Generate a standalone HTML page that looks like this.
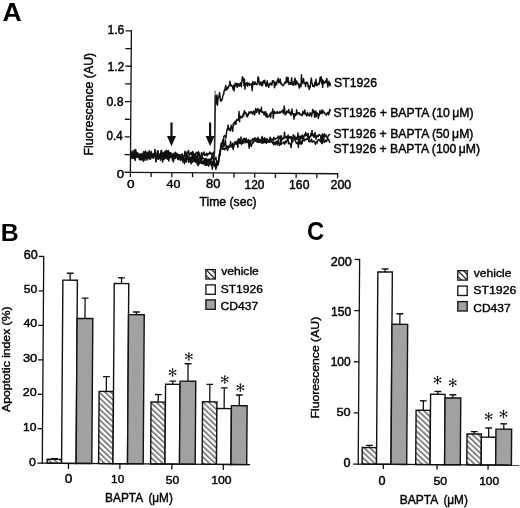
<!DOCTYPE html>
<html><head><meta charset="utf-8"><style>
html,body{margin:0;padding:0;background:#fff;overflow:hidden;}
svg{display:block;font-family:"Liberation Sans", sans-serif;filter:grayscale(1) blur(0.3px);}
text{fill:#000;stroke:#000;}
</style></head><body>
<svg width="520" height="508" viewBox="0 0 520 508">
<defs>
<pattern id="hatch" patternUnits="userSpaceOnUse" width="4.0" height="4.0" patternTransform="rotate(-47)">
<rect width="4.0" height="4.0" fill="#fff"/>
<line x1="0.8" y1="0" x2="0.8" y2="4.0" stroke="#222" stroke-width="1.05"/>
</pattern>
</defs>
<text transform="translate(2.54,20.70) scale(1.0627,1.0261)" font-size="25" font-weight="bold" style="stroke:none">A</text>
<g transform="rotate(0.4 130.4 172.3)">
<line x1="130.40" y1="30.30" x2="130.40" y2="172.90" stroke="#111" stroke-width="1.3"/>
<line x1="129.80" y1="172.30" x2="338.20" y2="172.30" stroke="#111" stroke-width="1.3"/>
<line x1="124.50" y1="172.30" x2="130.40" y2="172.30" stroke="#111" stroke-width="1.3"/>
<line x1="124.50" y1="154.62" x2="130.40" y2="154.62" stroke="#111" stroke-width="1.3"/>
<line x1="124.50" y1="136.95" x2="130.40" y2="136.95" stroke="#111" stroke-width="1.3"/>
<line x1="124.50" y1="119.28" x2="130.40" y2="119.28" stroke="#111" stroke-width="1.3"/>
<line x1="124.50" y1="101.60" x2="130.40" y2="101.60" stroke="#111" stroke-width="1.3"/>
<line x1="124.50" y1="83.93" x2="130.40" y2="83.93" stroke="#111" stroke-width="1.3"/>
<line x1="124.50" y1="66.25" x2="130.40" y2="66.25" stroke="#111" stroke-width="1.3"/>
<line x1="124.50" y1="48.58" x2="130.40" y2="48.58" stroke="#111" stroke-width="1.3"/>
<line x1="124.50" y1="30.90" x2="130.40" y2="30.90" stroke="#111" stroke-width="1.3"/>
<line x1="130.40" y1="172.30" x2="130.40" y2="176.90" stroke="#111" stroke-width="1.3"/>
<line x1="151.12" y1="172.30" x2="151.12" y2="176.90" stroke="#111" stroke-width="1.3"/>
<line x1="171.84" y1="172.30" x2="171.84" y2="176.90" stroke="#111" stroke-width="1.3"/>
<line x1="192.56" y1="172.30" x2="192.56" y2="176.90" stroke="#111" stroke-width="1.3"/>
<line x1="213.28" y1="172.30" x2="213.28" y2="176.90" stroke="#111" stroke-width="1.3"/>
<line x1="234.00" y1="172.30" x2="234.00" y2="176.90" stroke="#111" stroke-width="1.3"/>
<line x1="254.72" y1="172.30" x2="254.72" y2="176.90" stroke="#111" stroke-width="1.3"/>
<line x1="275.44" y1="172.30" x2="275.44" y2="176.90" stroke="#111" stroke-width="1.3"/>
<line x1="296.16" y1="172.30" x2="296.16" y2="176.90" stroke="#111" stroke-width="1.3"/>
<line x1="316.88" y1="172.30" x2="316.88" y2="176.90" stroke="#111" stroke-width="1.3"/>
<line x1="337.60" y1="172.30" x2="337.60" y2="176.90" stroke="#111" stroke-width="1.3"/>
<polyline points="130.40,153.22 130.92,155.21 131.44,155.44 131.95,151.02 132.47,153.38 132.99,158.39 133.51,152.53 134.03,153.48 134.54,158.58 135.06,155.54 135.58,154.48 136.10,155.04 136.62,155.47 137.13,153.96 137.65,152.84 138.17,156.45 138.69,155.15 139.21,154.90 139.72,156.43 140.24,155.14 140.76,159.62 141.28,153.72 141.80,155.52 142.31,155.47 142.83,154.99 143.35,156.02 143.87,154.30 144.39,156.70 144.90,157.21 145.42,152.78 145.94,154.70 146.46,154.00 146.98,152.17 147.49,157.43 148.01,154.82 148.53,153.46 149.05,156.27 149.57,154.31 150.08,158.37 150.60,154.64 151.12,151.33 151.64,153.87 152.16,154.65 152.67,155.02 153.19,157.43 153.71,155.69 154.23,154.08 154.75,149.26 155.26,152.47 155.78,161.14 156.30,154.19 156.82,155.35 157.34,150.79 157.85,150.45 158.37,157.16 158.89,155.30 159.41,154.65 159.93,154.89 160.44,152.66 160.96,153.21 161.48,150.19 162.00,156.52 162.52,154.89 163.03,152.82 163.55,155.94 164.07,153.45 164.59,151.33 165.11,155.00 165.62,156.90 166.14,149.90 166.66,156.24 167.18,153.56 167.70,152.54 168.21,150.24 168.73,154.52 169.25,156.35 169.77,155.09 170.29,156.67 170.80,153.80 171.32,154.88 171.84,155.35 172.36,160.02 172.88,159.19 173.39,154.74 173.91,154.24 174.43,153.21 174.95,155.76 175.47,151.91 175.98,153.46 176.50,155.53 177.02,154.23 177.54,155.73 178.06,155.51 178.57,154.40 179.09,155.14 179.61,156.72 180.13,156.07 180.65,157.08 181.16,154.20 181.68,155.79 182.20,153.54 182.72,155.96 183.24,155.98 183.75,156.24 184.27,155.59 184.79,150.92 185.31,153.81 185.83,153.34 186.34,160.54 186.86,151.62 187.38,152.37 187.90,152.50 188.42,149.98 188.93,155.59 189.45,154.03 189.97,152.84 190.49,153.78 191.01,151.91 191.52,154.51 192.04,153.68 192.56,151.14 193.08,152.14 193.60,154.73 194.11,154.74 194.63,153.56 195.15,154.77 195.67,154.01 196.19,151.79 196.70,152.12 197.22,152.68 197.74,155.09 198.26,151.30 198.78,151.73 199.29,154.74 199.81,157.65 200.33,156.84 200.85,155.61 201.37,152.13 201.88,155.56 202.40,154.85 202.92,152.65 203.44,153.61 203.96,151.56 204.47,154.91 204.99,154.40 205.51,153.82 206.03,154.41 206.55,152.66 207.06,155.30 207.58,153.84 208.10,153.02 208.62,153.62 209.14,153.10 209.65,151.49 210.17,152.56 210.69,153.33 211.21,152.49 211.73,154.14 212.24,153.36 212.76,153.58 213.28,151.64 213.80,153.63 214.32,152.20 214.83,95.24 215.35,103.37 215.87,99.31 216.39,94.33 216.91,104.77 217.42,99.23 217.94,96.74 218.46,95.65 218.98,91.88 219.50,95.58 220.01,100.27 220.53,100.57 221.05,98.84 221.57,99.24 222.09,96.32 222.60,94.16 223.12,93.76 223.64,89.65 224.16,89.96 224.68,86.73 225.19,84.67 225.71,89.48 226.23,88.71 226.75,88.07 227.27,86.25 227.78,87.31 228.30,85.05 228.82,84.31 229.34,80.61 229.86,84.17 230.37,85.30 230.89,84.29 231.41,85.84 231.93,85.96 232.45,88.77 232.96,84.48 233.48,90.17 234.00,86.25 234.52,82.43 235.04,85.12 235.55,84.01 236.07,82.82 236.59,86.59 237.11,82.68 237.63,84.52 238.14,83.59 238.66,85.61 239.18,83.99 239.70,81.92 240.22,84.26 240.73,85.99 241.25,79.79 241.77,75.90 242.29,77.06 242.81,79.71 243.32,84.94 243.84,78.17 244.36,88.39 244.88,83.27 245.40,82.38 245.91,83.96 246.43,81.59 246.95,85.41 247.47,83.18 247.99,82.30 248.50,82.43 249.02,84.44 249.54,83.37 250.06,83.89 250.58,82.79 251.09,85.15 251.61,89.86 252.13,80.71 252.65,81.61 253.17,83.78 253.68,83.44 254.20,81.03 254.72,81.47 255.24,83.49 255.76,83.41 256.27,83.74 256.79,82.80 257.31,76.09 257.83,76.34 258.35,80.50 258.86,83.94 259.38,83.05 259.90,81.13 260.42,83.46 260.94,84.87 261.45,81.17 261.97,84.29 262.49,80.62 263.01,79.78 263.53,82.02 264.04,79.20 264.56,82.41 265.08,84.00 265.60,85.56 266.12,82.23 266.63,79.90 267.15,84.80 267.67,84.19 268.19,86.39 268.71,82.54 269.22,84.08 269.74,82.60 270.26,82.00 270.78,83.76 271.30,84.10 271.81,79.78 272.33,80.89 272.85,79.80 273.37,80.24 273.89,86.70 274.40,82.04 274.92,84.51 275.44,81.08 275.96,83.52 276.48,80.33 276.99,79.00 277.51,77.15 278.03,81.68 278.55,81.44 279.07,79.56 279.58,78.04 280.10,82.64 280.62,81.93 281.14,83.23 281.66,84.48 282.17,84.31 282.69,84.59 283.21,83.87 283.73,81.74 284.25,82.33 284.76,80.72 285.28,81.65 285.80,76.04 286.32,81.61 286.84,78.86 287.35,76.24 287.87,80.01 288.39,83.44 288.91,82.20 289.43,81.41 289.94,83.07 290.46,82.38 290.98,76.59 291.50,83.04 292.02,83.55 292.53,84.35 293.05,80.51 293.57,83.40 294.09,77.09 294.61,77.89 295.12,83.91 295.64,82.34 296.16,79.80 296.68,81.22 297.20,82.72 297.71,82.39 298.23,84.89 298.75,86.94 299.27,83.16 299.79,83.55 300.30,85.49 300.82,73.62 301.34,82.65 301.86,81.86 302.38,80.55 302.89,77.28 303.41,82.02 303.93,81.38 304.45,82.30 304.97,85.27 305.48,81.01 306.00,81.85 306.52,81.13 307.04,81.57 307.56,85.61 308.07,84.40 308.59,88.27 309.11,86.59 309.63,85.68 310.15,80.92 310.66,76.80 311.18,80.92 311.70,82.31 312.22,85.14 312.74,84.72 313.25,83.87 313.77,85.38 314.29,80.84 314.81,83.80 315.33,77.96 315.84,82.64 316.36,84.55 316.88,83.06 317.40,82.34 317.92,81.91 318.43,83.31 318.95,79.50 319.47,75.99 319.99,80.03 320.51,75.32 321.02,82.26 321.54,78.13 322.06,86.06 322.58,79.47 323.10,80.95 323.61,81.91 324.13,80.54 324.65,81.06 325.17,79.00 325.69,81.09 326.20,76.99 326.72,81.13 327.24,85.56 327.76,81.16 328.28,79.83 328.79,82.53 329.31,84.46 329.83,81.25" fill="none" stroke="#111" stroke-width="1.45" stroke-linejoin="round"/>
<polyline points="130.40,154.28 130.92,158.50 131.44,153.40 131.95,153.44 132.47,154.54 132.99,154.29 133.51,156.34 134.03,153.44 134.54,157.97 135.06,157.38 135.58,149.43 136.10,154.86 136.62,152.49 137.13,154.18 137.65,155.22 138.17,155.25 138.69,155.65 139.21,159.06 139.72,154.81 140.24,154.16 140.76,156.52 141.28,159.59 141.80,158.84 142.31,158.66 142.83,153.29 143.35,159.80 143.87,156.69 144.39,157.96 144.90,154.91 145.42,153.77 145.94,156.06 146.46,155.80 146.98,156.33 147.49,153.85 148.01,153.03 148.53,156.57 149.05,150.52 149.57,158.99 150.08,153.54 150.60,156.16 151.12,155.53 151.64,154.87 152.16,153.91 152.67,156.75 153.19,158.11 153.71,156.09 154.23,155.14 154.75,155.98 155.26,155.13 155.78,155.46 156.30,158.15 156.82,154.72 157.34,154.36 157.85,159.08 158.37,158.96 158.89,155.70 159.41,157.26 159.93,156.46 160.44,158.96 160.96,152.94 161.48,157.84 162.00,155.26 162.52,155.45 163.03,156.50 163.55,155.71 164.07,154.95 164.59,154.13 165.11,157.46 165.62,156.04 166.14,151.67 166.66,153.79 167.18,155.54 167.70,156.90 168.21,159.07 168.73,154.36 169.25,157.99 169.77,156.31 170.29,152.35 170.80,154.05 171.32,153.98 171.84,153.43 172.36,156.84 172.88,155.74 173.39,156.32 173.91,152.76 174.43,156.96 174.95,155.45 175.47,155.73 175.98,155.84 176.50,155.97 177.02,154.88 177.54,158.78 178.06,154.68 178.57,155.81 179.09,154.25 179.61,154.16 180.13,157.21 180.65,159.41 181.16,157.91 181.68,158.74 182.20,158.78 182.72,157.35 183.24,157.15 183.75,156.09 184.27,155.72 184.79,156.19 185.31,151.97 185.83,154.60 186.34,156.99 186.86,158.53 187.38,154.48 187.90,158.15 188.42,159.04 188.93,157.92 189.45,157.17 189.97,156.70 190.49,158.05 191.01,156.48 191.52,158.89 192.04,156.68 192.56,154.47 193.08,160.19 193.60,155.93 194.11,157.31 194.63,155.89 195.15,154.01 195.67,156.70 196.19,160.64 196.70,159.69 197.22,158.76 197.74,154.14 198.26,160.33 198.78,158.79 199.29,159.43 199.81,158.57 200.33,156.24 200.85,156.88 201.37,160.37 201.88,158.37 202.40,156.47 202.92,158.09 203.44,158.10 203.96,158.24 204.47,160.91 204.99,161.09 205.51,164.81 206.03,158.00 206.55,159.08 207.06,160.73 207.58,159.04 208.10,160.58 208.62,158.63 209.14,159.66 209.65,161.40 210.17,158.45 210.69,158.95 211.21,159.52 211.73,155.39 212.24,156.19 212.76,158.23 213.28,153.41 213.80,159.18 214.32,158.16 214.83,158.33 215.35,158.36 215.87,156.66 216.39,161.16 216.91,164.68 217.42,160.40 217.94,163.79 218.46,161.61 218.98,156.06 219.50,153.45 220.01,149.87 220.53,149.28 221.05,146.74 221.57,143.11 222.09,142.08 222.60,138.90 223.12,143.21 223.64,135.60 224.16,135.41 224.68,134.80 225.19,135.29 225.71,137.55 226.23,132.28 226.75,128.41 227.27,128.81 227.78,124.32 228.30,128.50 228.82,129.51 229.34,127.47 229.86,129.11 230.37,130.11 230.89,124.46 231.41,127.39 231.93,125.98 232.45,130.52 232.96,122.84 233.48,124.65 234.00,121.78 234.52,120.75 235.04,120.58 235.55,123.61 236.07,120.13 236.59,118.58 237.11,119.53 237.63,119.34 238.14,118.32 238.66,110.83 239.18,121.11 239.70,115.28 240.22,116.71 240.73,115.57 241.25,116.86 241.77,116.96 242.29,115.96 242.81,112.87 243.32,115.24 243.84,109.85 244.36,112.59 244.88,111.88 245.40,111.50 245.91,114.01 246.43,115.73 246.95,116.01 247.47,113.16 247.99,114.38 248.50,111.05 249.02,111.34 249.54,112.48 250.06,111.44 250.58,110.58 251.09,112.01 251.61,111.30 252.13,113.30 252.65,112.59 253.17,110.15 253.68,112.27 254.20,114.07 254.72,111.46 255.24,107.67 255.76,110.24 256.27,111.72 256.79,108.29 257.31,107.73 257.83,108.48 258.35,111.26 258.86,113.18 259.38,108.93 259.90,110.44 260.42,110.06 260.94,106.39 261.45,111.57 261.97,111.31 262.49,111.00 263.01,111.18 263.53,113.89 264.04,113.91 264.56,110.80 265.08,110.84 265.60,115.79 266.12,112.21 266.63,113.43 267.15,116.55 267.67,115.45 268.19,115.61 268.71,114.58 269.22,114.00 269.74,112.38 270.26,116.44 270.78,111.98 271.30,111.35 271.81,111.69 272.33,108.00 272.85,117.26 273.37,113.20 273.89,110.35 274.40,112.20 274.92,112.20 275.44,111.84 275.96,110.91 276.48,112.15 276.99,110.74 277.51,112.23 278.03,111.71 278.55,111.59 279.07,110.71 279.58,112.12 280.10,110.79 280.62,111.26 281.14,110.19 281.66,110.17 282.17,108.85 282.69,112.17 283.21,112.20 283.73,104.94 284.25,108.83 284.76,113.86 285.28,112.21 285.80,112.83 286.32,109.78 286.84,110.43 287.35,111.43 287.87,110.78 288.39,108.35 288.91,112.24 289.43,112.43 289.94,111.12 290.46,113.88 290.98,113.69 291.50,107.83 292.02,112.39 292.53,112.73 293.05,112.57 293.57,118.06 294.09,112.68 294.61,114.97 295.12,112.78 295.64,114.14 296.16,108.65 296.68,112.59 297.20,112.59 297.71,111.67 298.23,111.41 298.75,113.04 299.27,111.81 299.79,113.75 300.30,113.48 300.82,113.57 301.34,113.02 301.86,114.55 302.38,110.05 302.89,112.45 303.41,112.59 303.93,111.43 304.45,108.80 304.97,113.62 305.48,113.05 306.00,112.86 306.52,114.72 307.04,111.12 307.56,112.82 308.07,113.90 308.59,113.55 309.11,114.72 309.63,111.49 310.15,112.93 310.66,112.09 311.18,115.36 311.70,112.32 312.22,108.21 312.74,111.36 313.25,109.06 313.77,110.43 314.29,115.93 314.81,111.62 315.33,109.66 315.84,115.42 316.36,111.51 316.88,112.64 317.40,112.01 317.92,117.18 318.43,114.25 318.95,113.78 319.47,109.29 319.99,111.14 320.51,112.34 321.02,109.52 321.54,108.67 322.06,112.28 322.58,109.26 323.10,110.78 323.61,111.23 324.13,110.93 324.65,112.80 325.17,112.87 325.69,113.90 326.20,113.52 326.72,111.61 327.24,112.44 327.76,110.96 328.28,113.35 328.79,111.53 329.31,107.82 329.83,110.20" fill="none" stroke="#111" stroke-width="1.45" stroke-linejoin="round"/>
<polyline points="130.40,157.86 130.92,157.42 131.44,157.01 131.95,154.31 132.47,152.25 132.99,157.82 133.51,155.52 134.03,149.92 134.54,157.74 135.06,160.42 135.58,154.89 136.10,157.39 136.62,153.19 137.13,155.69 137.65,157.31 138.17,155.56 138.69,155.53 139.21,153.98 139.72,157.36 140.24,156.02 140.76,154.71 141.28,156.59 141.80,159.69 142.31,155.20 142.83,156.43 143.35,161.27 143.87,151.66 144.39,155.93 144.90,160.10 145.42,153.59 145.94,154.58 146.46,156.20 146.98,157.22 147.49,156.33 148.01,156.38 148.53,152.72 149.05,156.48 149.57,154.69 150.08,152.50 150.60,158.80 151.12,155.86 151.64,155.29 152.16,156.75 152.67,155.67 153.19,153.62 153.71,155.87 154.23,156.72 154.75,156.43 155.26,155.26 155.78,158.20 156.30,158.60 156.82,157.41 157.34,155.05 157.85,155.19 158.37,155.95 158.89,156.50 159.41,154.74 159.93,156.62 160.44,156.28 160.96,150.21 161.48,156.56 162.00,156.22 162.52,159.93 163.03,152.64 163.55,158.73 164.07,158.26 164.59,156.30 165.11,154.59 165.62,157.72 166.14,154.68 166.66,155.84 167.18,156.94 167.70,156.11 168.21,155.78 168.73,155.23 169.25,151.93 169.77,155.28 170.29,157.25 170.80,157.19 171.32,153.04 171.84,156.37 172.36,156.24 172.88,156.49 173.39,161.52 173.91,158.65 174.43,156.57 174.95,155.85 175.47,158.09 175.98,155.50 176.50,156.44 177.02,156.36 177.54,156.68 178.06,155.55 178.57,156.75 179.09,157.42 179.61,155.51 180.13,156.45 180.65,157.86 181.16,158.56 181.68,159.47 182.20,160.00 182.72,161.58 183.24,158.92 183.75,157.73 184.27,159.53 184.79,158.31 185.31,159.59 185.83,161.95 186.34,158.31 186.86,158.16 187.38,157.14 187.90,157.76 188.42,161.98 188.93,160.13 189.45,160.95 189.97,159.79 190.49,160.02 191.01,159.17 191.52,158.66 192.04,159.59 192.56,157.90 193.08,156.65 193.60,157.86 194.11,158.25 194.63,159.64 195.15,158.91 195.67,161.87 196.19,160.45 196.70,161.24 197.22,161.43 197.74,161.04 198.26,165.29 198.78,159.12 199.29,163.28 199.81,161.77 200.33,160.07 200.85,160.50 201.37,162.98 201.88,162.53 202.40,161.97 202.92,160.92 203.44,162.96 203.96,159.88 204.47,161.17 204.99,160.40 205.51,158.08 206.03,160.59 206.55,163.12 207.06,161.58 207.58,160.74 208.10,159.09 208.62,162.07 209.14,159.51 209.65,158.79 210.17,159.59 210.69,162.87 211.21,164.88 211.73,160.71 212.24,163.37 212.76,163.40 213.28,163.19 213.80,157.63 214.32,163.35 214.83,162.36 215.35,165.22 215.87,168.75 216.39,163.46 216.91,161.30 217.42,162.56 217.94,163.97 218.46,161.45 218.98,155.82 219.50,152.22 220.01,149.46 220.53,148.12 221.05,145.32 221.57,146.42 222.09,146.82 222.60,145.85 223.12,143.58 223.64,146.15 224.16,144.92 224.68,142.34 225.19,139.22 225.71,145.18 226.23,146.41 226.75,145.26 227.27,145.98 227.78,146.32 228.30,146.63 228.82,146.34 229.34,146.06 229.86,144.74 230.37,145.44 230.89,145.09 231.41,144.79 231.93,144.81 232.45,144.99 232.96,146.39 233.48,145.80 234.00,142.76 234.52,141.28 235.04,141.26 235.55,142.28 236.07,140.76 236.59,142.12 237.11,141.28 237.63,146.72 238.14,139.38 238.66,141.83 239.18,138.26 239.70,142.48 240.22,142.64 240.73,142.38 241.25,142.18 241.77,141.11 242.29,140.51 242.81,138.34 243.32,139.56 243.84,137.74 244.36,140.10 244.88,140.36 245.40,141.45 245.91,140.90 246.43,141.49 246.95,141.86 247.47,140.26 247.99,138.77 248.50,139.37 249.02,145.73 249.54,139.71 250.06,140.69 250.58,139.40 251.09,140.19 251.61,139.98 252.13,138.44 252.65,137.69 253.17,138.03 253.68,139.68 254.20,138.98 254.72,139.99 255.24,137.46 255.76,137.50 256.27,138.66 256.79,138.41 257.31,139.83 257.83,136.31 258.35,141.37 258.86,139.32 259.38,141.42 259.90,140.70 260.42,139.78 260.94,140.01 261.45,136.55 261.97,135.55 262.49,140.73 263.01,138.93 263.53,138.34 264.04,137.25 264.56,139.08 265.08,139.89 265.60,140.20 266.12,138.46 266.63,137.81 267.15,140.10 267.67,138.47 268.19,140.29 268.71,140.58 269.22,140.84 269.74,136.16 270.26,137.25 270.78,137.95 271.30,139.51 271.81,138.29 272.33,138.69 272.85,139.65 273.37,136.31 273.89,136.71 274.40,137.26 274.92,138.73 275.44,137.40 275.96,137.48 276.48,137.32 276.99,137.00 277.51,136.79 278.03,134.88 278.55,137.36 279.07,137.67 279.58,136.09 280.10,134.80 280.62,143.47 281.14,134.80 281.66,139.01 282.17,137.44 282.69,137.02 283.21,137.88 283.73,137.49 284.25,131.06 284.76,136.20 285.28,136.70 285.80,136.81 286.32,135.24 286.84,136.99 287.35,138.36 287.87,133.80 288.39,137.84 288.91,136.42 289.43,135.51 289.94,136.27 290.46,137.17 290.98,135.34 291.50,140.21 292.02,137.15 292.53,137.17 293.05,133.56 293.57,136.72 294.09,135.44 294.61,134.81 295.12,137.86 295.64,138.39 296.16,136.86 296.68,136.04 297.20,138.46 297.71,131.69 298.23,139.47 298.75,139.79 299.27,134.97 299.79,139.01 300.30,135.15 300.82,137.38 301.34,137.12 301.86,133.71 302.38,134.38 302.89,137.60 303.41,135.21 303.93,134.79 304.45,133.07 304.97,134.68 305.48,131.11 306.00,133.55 306.52,134.29 307.04,132.78 307.56,135.53 308.07,132.31 308.59,140.23 309.11,135.51 309.63,136.18 310.15,134.63 310.66,132.49 311.18,134.43 311.70,129.11 312.22,133.52 312.74,134.77 313.25,132.96 313.77,136.02 314.29,135.03 314.81,131.30 315.33,134.91 315.84,137.92 316.36,135.14 316.88,134.28 317.40,134.95 317.92,135.36 318.43,133.78 318.95,133.20 319.47,134.05 319.99,134.16 320.51,134.92 321.02,140.59 321.54,135.85 322.06,132.56 322.58,133.48 323.10,135.02 323.61,136.97 324.13,132.31 324.65,134.96 325.17,133.74 325.69,133.60 326.20,135.89 326.72,136.29 327.24,137.22 327.76,134.84 328.28,133.80 328.79,133.38 329.31,133.22 329.83,132.85" fill="none" stroke="#111" stroke-width="1.45" stroke-linejoin="round"/>
<polyline points="130.40,157.32 130.92,155.41 131.44,156.56 131.95,157.94 132.47,156.60 132.99,156.56 133.51,157.29 134.03,157.10 134.54,156.27 135.06,156.21 135.58,156.60 136.10,152.83 136.62,156.34 137.13,156.33 137.65,155.31 138.17,155.33 138.69,154.39 139.21,155.93 139.72,159.75 140.24,154.90 140.76,155.86 141.28,157.97 141.80,156.11 142.31,155.62 142.83,156.48 143.35,151.64 143.87,153.74 144.39,157.15 144.90,153.44 145.42,150.76 145.94,157.69 146.46,156.27 146.98,159.96 147.49,156.69 148.01,158.65 148.53,155.63 149.05,157.59 149.57,154.60 150.08,157.83 150.60,156.94 151.12,154.84 151.64,154.24 152.16,154.52 152.67,157.54 153.19,157.05 153.71,154.87 154.23,156.06 154.75,156.14 155.26,155.88 155.78,161.68 156.30,157.66 156.82,155.75 157.34,152.48 157.85,155.14 158.37,153.78 158.89,157.69 159.41,158.15 159.93,155.59 160.44,159.97 160.96,155.76 161.48,156.00 162.00,156.30 162.52,161.82 163.03,158.36 163.55,154.69 164.07,158.79 164.59,155.57 165.11,158.19 165.62,157.54 166.14,154.59 166.66,153.03 167.18,159.01 167.70,150.68 168.21,154.17 168.73,160.72 169.25,157.11 169.77,156.21 170.29,155.87 170.80,156.27 171.32,155.96 171.84,154.35 172.36,155.88 172.88,156.50 173.39,157.78 173.91,156.71 174.43,157.09 174.95,157.11 175.47,156.71 175.98,155.73 176.50,156.71 177.02,153.10 177.54,157.41 178.06,159.33 178.57,158.37 179.09,157.18 179.61,158.03 180.13,159.82 180.65,159.25 181.16,156.52 181.68,158.82 182.20,157.64 182.72,157.52 183.24,158.25 183.75,157.53 184.27,163.40 184.79,158.73 185.31,157.71 185.83,159.28 186.34,158.53 186.86,157.76 187.38,158.90 187.90,158.41 188.42,156.55 188.93,161.36 189.45,159.16 189.97,157.38 190.49,160.90 191.01,163.39 191.52,157.37 192.04,161.99 192.56,161.58 193.08,160.33 193.60,158.57 194.11,160.98 194.63,159.53 195.15,160.92 195.67,161.89 196.19,155.43 196.70,159.94 197.22,164.06 197.74,160.19 198.26,158.50 198.78,158.99 199.29,160.76 199.81,158.74 200.33,159.52 200.85,162.42 201.37,160.10 201.88,162.16 202.40,162.81 202.92,163.39 203.44,160.13 203.96,160.79 204.47,163.09 204.99,164.18 205.51,163.04 206.03,162.93 206.55,164.85 207.06,163.40 207.58,162.54 208.10,164.44 208.62,165.70 209.14,163.14 209.65,163.42 210.17,162.87 210.69,163.42 211.21,162.18 211.73,163.02 212.24,168.52 212.76,165.31 213.28,159.38 213.80,162.85 214.32,164.95 214.83,165.79 215.35,164.84 215.87,165.21 216.39,166.71 216.91,164.57 217.42,162.13 217.94,164.39 218.46,160.99 218.98,155.96 219.50,154.29 220.01,154.89 220.53,145.01 221.05,142.25 221.57,146.67 222.09,145.50 222.60,148.84 223.12,148.48 223.64,148.12 224.16,147.95 224.68,149.23 225.19,147.66 225.71,146.96 226.23,147.51 226.75,146.90 227.27,149.82 227.78,148.33 228.30,145.42 228.82,145.18 229.34,144.60 229.86,146.40 230.37,140.82 230.89,144.10 231.41,144.99 231.93,146.56 232.45,142.51 232.96,148.86 233.48,145.44 234.00,143.68 234.52,143.68 235.04,143.10 235.55,143.02 236.07,141.59 236.59,143.74 237.11,142.90 237.63,140.23 238.14,138.07 238.66,141.44 239.18,142.40 239.70,141.73 240.22,142.58 240.73,136.13 241.25,143.69 241.77,141.50 242.29,141.62 242.81,142.59 243.32,140.85 243.84,140.65 244.36,137.77 244.88,142.21 245.40,140.56 245.91,137.38 246.43,140.60 246.95,140.68 247.47,140.77 247.99,141.47 248.50,140.67 249.02,147.49 249.54,143.86 250.06,140.54 250.58,142.57 251.09,145.60 251.61,143.61 252.13,142.44 252.65,140.79 253.17,141.92 253.68,140.13 254.20,137.38 254.72,137.10 255.24,140.05 255.76,139.79 256.27,141.00 256.79,139.36 257.31,141.47 257.83,139.66 258.35,139.79 258.86,138.47 259.38,138.39 259.90,139.19 260.42,139.37 260.94,141.84 261.45,140.77 261.97,142.40 262.49,141.21 263.01,142.07 263.53,141.47 264.04,137.12 264.56,141.53 265.08,140.15 265.60,137.54 266.12,142.52 266.63,141.40 267.15,140.88 267.67,141.31 268.19,141.20 268.71,140.51 269.22,141.31 269.74,140.21 270.26,140.86 270.78,140.32 271.30,139.91 271.81,141.45 272.33,142.18 272.85,140.67 273.37,143.62 273.89,142.41 274.40,141.37 274.92,143.70 275.44,142.24 275.96,140.44 276.48,140.24 276.99,144.00 277.51,142.07 278.03,138.72 278.55,140.43 279.07,144.56 279.58,143.57 280.10,143.63 280.62,139.99 281.14,142.94 281.66,142.10 282.17,142.06 282.69,141.99 283.21,141.03 283.73,141.32 284.25,143.25 284.76,140.90 285.28,139.86 285.80,141.76 286.32,140.58 286.84,139.40 287.35,138.78 287.87,138.94 288.39,142.69 288.91,141.45 289.43,142.70 289.94,142.52 290.46,144.13 290.98,146.54 291.50,140.35 292.02,140.80 292.53,140.67 293.05,138.13 293.57,137.96 294.09,137.73 294.61,137.45 295.12,139.73 295.64,140.65 296.16,142.11 296.68,141.73 297.20,142.61 297.71,140.99 298.23,146.38 298.75,140.16 299.27,139.33 299.79,142.08 300.30,140.90 300.82,143.10 301.34,139.86 301.86,142.28 302.38,139.41 302.89,137.55 303.41,135.98 303.93,139.69 304.45,139.59 304.97,138.21 305.48,138.12 306.00,138.35 306.52,138.05 307.04,136.72 307.56,138.05 308.07,137.77 308.59,139.78 309.11,140.55 309.63,140.48 310.15,139.72 310.66,139.08 311.18,137.83 311.70,140.73 312.22,140.91 312.74,139.74 313.25,139.93 313.77,139.82 314.29,140.20 314.81,142.13 315.33,143.01 315.84,141.09 316.36,140.59 316.88,141.70 317.40,139.55 317.92,138.56 318.43,138.29 318.95,138.09 319.47,139.45 319.99,139.61 320.51,140.66 321.02,135.98 321.54,142.11 322.06,142.28 322.58,133.70 323.10,137.88 323.61,139.45 324.13,141.21 324.65,138.61 325.17,140.07 325.69,139.17 326.20,140.33 326.72,138.88 327.24,137.76 327.76,137.63 328.28,138.78 328.79,138.46 329.31,140.87 329.83,140.21" fill="none" stroke="#111" stroke-width="1.45" stroke-linejoin="round"/>
<line x1="214.52" y1="159.04" x2="214.52" y2="90.11" stroke="#333" stroke-width="0.9"/>
</g>
<rect x="170.40" y="122.5" width="2.2" height="14" fill="#111"/>
<polygon points="167.00,135.9 176.00,135.9 171.50,146.3" fill="#111"/>
<rect x="209.00" y="122.5" width="2.2" height="14" fill="#111"/>
<polygon points="205.60,135.9 214.60,135.9 210.10,146.3" fill="#111"/>
<text transform="translate(107.38,34.48) scale(1.1095,1.0883)" font-size="11" font-weight="normal" stroke-width="0.4">1.6</text>
<text transform="translate(107.39,70.50) scale(1.1067,1.0909)" font-size="11" font-weight="normal" stroke-width="0.4">1.2</text>
<text transform="translate(106.41,106.38) scale(1.1173,1.1012)" font-size="11" font-weight="normal" stroke-width="0.4">0.8</text>
<text transform="translate(106.43,140.48) scale(1.0606,1.1140)" font-size="11" font-weight="normal" stroke-width="0.4">0.4</text>
<text transform="translate(116.87,177.59) scale(1.2057,1.0371)" font-size="11" font-weight="normal" stroke-width="0.4">0</text>
<text transform="translate(127.05,187.58) scale(1.2440,1.0627)" font-size="11" font-weight="normal" stroke-width="0.4">0</text>
<text transform="translate(166.59,187.78) scale(1.1396,1.0627)" font-size="11" font-weight="normal" stroke-width="0.4">40</text>
<text transform="translate(206.02,188.47) scale(1.1796,1.1524)" font-size="11" font-weight="normal" stroke-width="0.4">80</text>
<text transform="translate(244.50,188.68) scale(1.0850,1.1012)" font-size="11" font-weight="normal" stroke-width="0.4">120</text>
<text transform="translate(289.09,188.68) scale(1.1085,1.1012)" font-size="11" font-weight="normal" stroke-width="0.4">160</text>
<text transform="translate(330.48,188.98) scale(1.1313,1.1140)" font-size="11" font-weight="normal" stroke-width="0.4">200</text>
<text transform="translate(199.46,206.48) scale(1.0181,0.9982)" font-size="12" font-weight="normal" stroke-width="0.4">Time (sec)</text>
<text transform="translate(93.48,155.49) rotate(-90) scale(1.0270,0.9982)" font-size="12" font-weight="normal" stroke-width="0.4">Fluorescence (AU)</text>
<text transform="translate(334.05,87.47) scale(1.0215,1.0798)" font-size="12" font-weight="normal" stroke-width="0.4">ST1926</text>
<text transform="translate(333.45,117.44) scale(1.0191,1.0160)" font-size="12" font-weight="normal" stroke-width="0.4">ST1926 + BAPTA (10 μM)</text>
<text transform="translate(333.45,137.92) scale(1.0191,1.0250)" font-size="12" font-weight="normal" stroke-width="0.4">ST1926 + BAPTA (50 μM)</text>
<text transform="translate(333.45,152.54) scale(1.0171,1.0160)" font-size="12" font-weight="normal" stroke-width="0.4">ST1926 + BAPTA (100 μM)</text>
<g transform="rotate(0.4 42.3 463.2)">
<line x1="54.40" y1="459.22" x2="54.40" y2="458.52" stroke="#111" stroke-width="1.3"/>
<line x1="51.00" y1="458.52" x2="57.80" y2="458.52" stroke="#111" stroke-width="1.4"/>
<rect x="47.20" y="459.22" width="14.40" height="3.98" fill="url(#hatch)" stroke="#111" stroke-width="1.4"/>
<line x1="68.85" y1="280.01" x2="68.85" y2="273.01" stroke="#111" stroke-width="1.3"/>
<line x1="65.45" y1="273.01" x2="72.25" y2="273.01" stroke="#111" stroke-width="1.4"/>
<rect x="61.60" y="280.01" width="14.50" height="183.19" fill="#fff" stroke="#111" stroke-width="1.4"/>
<line x1="83.95" y1="318.21" x2="83.95" y2="297.81" stroke="#111" stroke-width="1.3"/>
<line x1="80.55" y1="297.81" x2="87.35" y2="297.81" stroke="#111" stroke-width="1.4"/>
<rect x="76.10" y="318.21" width="15.70" height="144.99" fill="#a1a1a1" stroke="#111" stroke-width="1.4"/>
<line x1="105.80" y1="390.96" x2="105.80" y2="376.16" stroke="#111" stroke-width="1.3"/>
<line x1="102.40" y1="376.16" x2="109.20" y2="376.16" stroke="#111" stroke-width="1.4"/>
<rect x="98.60" y="390.96" width="14.40" height="72.24" fill="url(#hatch)" stroke="#111" stroke-width="1.4"/>
<line x1="120.25" y1="283.06" x2="120.25" y2="277.26" stroke="#111" stroke-width="1.3"/>
<line x1="116.85" y1="277.26" x2="123.65" y2="277.26" stroke="#111" stroke-width="1.4"/>
<rect x="113.00" y="283.06" width="14.50" height="180.14" fill="#fff" stroke="#111" stroke-width="1.4"/>
<line x1="135.35" y1="314.05" x2="135.35" y2="311.35" stroke="#111" stroke-width="1.3"/>
<line x1="131.95" y1="311.35" x2="138.75" y2="311.35" stroke="#111" stroke-width="1.4"/>
<rect x="127.50" y="314.05" width="15.70" height="149.15" fill="#a1a1a1" stroke="#111" stroke-width="1.4"/>
<line x1="157.80" y1="401.29" x2="157.80" y2="393.79" stroke="#111" stroke-width="1.3"/>
<line x1="154.40" y1="393.79" x2="161.20" y2="393.79" stroke="#111" stroke-width="1.4"/>
<rect x="150.60" y="401.29" width="14.40" height="61.91" fill="url(#hatch)" stroke="#111" stroke-width="1.4"/>
<line x1="172.25" y1="383.39" x2="172.25" y2="380.19" stroke="#111" stroke-width="1.3"/>
<line x1="168.85" y1="380.19" x2="175.65" y2="380.19" stroke="#111" stroke-width="1.4"/>
<rect x="165.00" y="383.39" width="14.50" height="79.81" fill="#fff" stroke="#111" stroke-width="1.4"/>
<line x1="187.35" y1="380.19" x2="187.35" y2="362.69" stroke="#111" stroke-width="1.3"/>
<line x1="183.95" y1="362.69" x2="190.75" y2="362.69" stroke="#111" stroke-width="1.4"/>
<rect x="179.50" y="380.19" width="15.70" height="83.01" fill="#a1a1a1" stroke="#111" stroke-width="1.4"/>
<line x1="209.30" y1="400.63" x2="209.30" y2="383.23" stroke="#111" stroke-width="1.3"/>
<line x1="205.90" y1="383.23" x2="212.70" y2="383.23" stroke="#111" stroke-width="1.4"/>
<rect x="202.10" y="400.63" width="14.40" height="62.57" fill="url(#hatch)" stroke="#111" stroke-width="1.4"/>
<line x1="223.75" y1="407.33" x2="223.75" y2="386.63" stroke="#111" stroke-width="1.3"/>
<line x1="220.35" y1="386.63" x2="227.15" y2="386.63" stroke="#111" stroke-width="1.4"/>
<rect x="216.50" y="407.33" width="14.50" height="55.87" fill="#fff" stroke="#111" stroke-width="1.4"/>
<line x1="238.85" y1="404.33" x2="238.85" y2="393.63" stroke="#111" stroke-width="1.3"/>
<line x1="235.45" y1="393.63" x2="242.25" y2="393.63" stroke="#111" stroke-width="1.4"/>
<rect x="231.00" y="404.33" width="15.70" height="58.87" fill="#a1a1a1" stroke="#111" stroke-width="1.4"/>
<line x1="42.30" y1="255.90" x2="42.30" y2="463.80" stroke="#111" stroke-width="1.3"/>
<line x1="41.70" y1="463.20" x2="250.10" y2="463.20" stroke="#111" stroke-width="1.3"/>
<line x1="37.30" y1="463.20" x2="42.30" y2="463.20" stroke="#111" stroke-width="1.3"/>
<line x1="37.30" y1="428.75" x2="42.30" y2="428.75" stroke="#111" stroke-width="1.3"/>
<line x1="37.30" y1="394.30" x2="42.30" y2="394.30" stroke="#111" stroke-width="1.3"/>
<line x1="37.30" y1="359.85" x2="42.30" y2="359.85" stroke="#111" stroke-width="1.3"/>
<line x1="37.30" y1="325.40" x2="42.30" y2="325.40" stroke="#111" stroke-width="1.3"/>
<line x1="37.30" y1="290.95" x2="42.30" y2="290.95" stroke="#111" stroke-width="1.3"/>
<line x1="37.30" y1="256.50" x2="42.30" y2="256.50" stroke="#111" stroke-width="1.3"/>
<line x1="68.50" y1="463.20" x2="68.50" y2="468.70" stroke="#111" stroke-width="1.3"/>
<line x1="119.90" y1="463.20" x2="119.90" y2="468.70" stroke="#111" stroke-width="1.3"/>
<line x1="171.90" y1="463.20" x2="171.90" y2="468.70" stroke="#111" stroke-width="1.3"/>
<line x1="223.40" y1="463.20" x2="223.40" y2="468.70" stroke="#111" stroke-width="1.3"/>
</g>
<line x1="172.60" y1="369.00" x2="172.60" y2="375.80" stroke="#111" stroke-width="0.9"/>
<circle cx="172.60" cy="369.00" r="0.85" fill="#111"/>
<circle cx="172.60" cy="375.80" r="0.85" fill="#111"/>
<line x1="169.66" y1="370.70" x2="175.54" y2="374.10" stroke="#111" stroke-width="0.9"/>
<circle cx="169.66" cy="370.70" r="0.85" fill="#111"/>
<circle cx="175.54" cy="374.10" r="0.85" fill="#111"/>
<line x1="175.54" y1="370.70" x2="169.66" y2="374.10" stroke="#111" stroke-width="0.9"/>
<circle cx="175.54" cy="370.70" r="0.85" fill="#111"/>
<circle cx="169.66" cy="374.10" r="0.85" fill="#111"/>
<circle cx="172.60" cy="372.40" r="0.9" fill="#111"/>
<line x1="188.90" y1="353.00" x2="188.90" y2="359.80" stroke="#111" stroke-width="0.9"/>
<circle cx="188.90" cy="353.00" r="0.85" fill="#111"/>
<circle cx="188.90" cy="359.80" r="0.85" fill="#111"/>
<line x1="185.96" y1="354.70" x2="191.84" y2="358.10" stroke="#111" stroke-width="0.9"/>
<circle cx="185.96" cy="354.70" r="0.85" fill="#111"/>
<circle cx="191.84" cy="358.10" r="0.85" fill="#111"/>
<line x1="191.84" y1="354.70" x2="185.96" y2="358.10" stroke="#111" stroke-width="0.9"/>
<circle cx="191.84" cy="354.70" r="0.85" fill="#111"/>
<circle cx="185.96" cy="358.10" r="0.85" fill="#111"/>
<circle cx="188.90" cy="356.40" r="0.9" fill="#111"/>
<line x1="224.80" y1="376.00" x2="224.80" y2="382.80" stroke="#111" stroke-width="0.9"/>
<circle cx="224.80" cy="376.00" r="0.85" fill="#111"/>
<circle cx="224.80" cy="382.80" r="0.85" fill="#111"/>
<line x1="221.86" y1="377.70" x2="227.74" y2="381.10" stroke="#111" stroke-width="0.9"/>
<circle cx="221.86" cy="377.70" r="0.85" fill="#111"/>
<circle cx="227.74" cy="381.10" r="0.85" fill="#111"/>
<line x1="227.74" y1="377.70" x2="221.86" y2="381.10" stroke="#111" stroke-width="0.9"/>
<circle cx="227.74" cy="377.70" r="0.85" fill="#111"/>
<circle cx="221.86" cy="381.10" r="0.85" fill="#111"/>
<circle cx="224.80" cy="379.40" r="0.9" fill="#111"/>
<line x1="240.40" y1="384.20" x2="240.40" y2="391.00" stroke="#111" stroke-width="0.9"/>
<circle cx="240.40" cy="384.20" r="0.85" fill="#111"/>
<circle cx="240.40" cy="391.00" r="0.85" fill="#111"/>
<line x1="237.46" y1="385.90" x2="243.34" y2="389.30" stroke="#111" stroke-width="0.9"/>
<circle cx="237.46" cy="385.90" r="0.85" fill="#111"/>
<circle cx="243.34" cy="389.30" r="0.85" fill="#111"/>
<line x1="243.34" y1="385.90" x2="237.46" y2="389.30" stroke="#111" stroke-width="0.9"/>
<circle cx="243.34" cy="385.90" r="0.85" fill="#111"/>
<circle cx="237.46" cy="389.30" r="0.85" fill="#111"/>
<circle cx="240.40" cy="387.60" r="0.9" fill="#111"/>
<rect x="205.90" y="269.60" width="9.4" height="9.4" fill="#fff" stroke="#111" stroke-width="1.3"/>
<line x1="205.90" y1="269.60" x2="215.30" y2="279.00" stroke="#222" stroke-width="1.3"/>
<line x1="211.50" y1="269.60" x2="215.30" y2="273.40" stroke="#222" stroke-width="1.2"/>
<line x1="205.90" y1="275.20" x2="209.70" y2="279.00" stroke="#222" stroke-width="1.2"/>
<rect x="205.90" y="284.90" width="9.4" height="9.4" fill="#fff" stroke="#111" stroke-width="1.3"/>
<rect x="205.90" y="299.90" width="9.4" height="9.4" fill="#a1a1a1" stroke="#111" stroke-width="1.3"/>
<text transform="translate(0.78,241.00) scale(1.0834,1.0460)" font-size="23" font-weight="bold" style="stroke:none">B</text>
<text transform="translate(23.67,259.18) scale(1.1408,1.1140)" font-size="11" font-weight="normal" stroke-width="0.4">60</text>
<text transform="translate(23.81,293.18) scale(1.1033,1.0499)" font-size="11" font-weight="normal" stroke-width="0.4">50</text>
<text transform="translate(23.39,327.48) scale(1.1396,1.0499)" font-size="11" font-weight="normal" stroke-width="0.4">40</text>
<text transform="translate(22.88,362.48) scale(1.1827,1.0499)" font-size="11" font-weight="normal" stroke-width="0.4">30</text>
<text transform="translate(22.67,396.48) scale(1.1408,1.0499)" font-size="11" font-weight="normal" stroke-width="0.4">20</text>
<text transform="translate(23.10,430.69) scale(1.0964,1.0243)" font-size="11" font-weight="normal" stroke-width="0.4">10</text>
<text transform="translate(29.00,465.69) scale(1.1292,1.0243)" font-size="11" font-weight="normal" stroke-width="0.4">0</text>
<text transform="translate(64.85,483.38) scale(1.2440,1.1140)" font-size="11" font-weight="normal" stroke-width="0.4">0</text>
<text transform="translate(111.11,483.48) scale(1.0781,1.0627)" font-size="11" font-weight="normal" stroke-width="0.4">10</text>
<text transform="translate(165.81,483.68) scale(1.1033,1.0755)" font-size="11" font-weight="normal" stroke-width="0.4">50</text>
<text transform="translate(211.19,484.08) scale(1.1085,1.0499)" font-size="11" font-weight="normal" stroke-width="0.4">100</text>
<text transform="translate(105.05,501.60) scale(0.9920,1.0266)" font-size="12" font-weight="normal" stroke-width="0.4">BAPTA</text>
<text transform="translate(148.39,501.51) scale(0.9829,0.9893)" font-size="12" font-weight="normal" stroke-width="0.4">(μM)</text>
<text transform="translate(10.05,411.96) rotate(-90) scale(1.0149,0.9715)" font-size="12" font-weight="normal" stroke-width="0.4">Apoptotic index (%)</text>
<text transform="translate(221.14,275.20) scale(1.0103,0.8503)" font-size="12" font-weight="normal" stroke-width="0.4">vehicle</text>
<text transform="translate(220.66,292.69) scale(1.0044,0.8803)" font-size="12" font-weight="normal" stroke-width="0.4">ST1926</text>
<text transform="translate(220.60,310.19) scale(1.0064,0.9214)" font-size="12" font-weight="normal" stroke-width="0.4">CD437</text>
<g transform="rotate(0.4 358.2 464.1)">
<line x1="369.30" y1="447.52" x2="369.30" y2="445.32" stroke="#111" stroke-width="1.3"/>
<line x1="365.90" y1="445.32" x2="372.70" y2="445.32" stroke="#111" stroke-width="1.4"/>
<rect x="362.10" y="447.52" width="14.40" height="16.58" fill="url(#hatch)" stroke="#111" stroke-width="1.4"/>
<line x1="383.75" y1="271.82" x2="383.75" y2="268.72" stroke="#111" stroke-width="1.3"/>
<line x1="380.35" y1="268.72" x2="387.15" y2="268.72" stroke="#111" stroke-width="1.4"/>
<rect x="376.50" y="271.82" width="14.50" height="192.28" fill="#fff" stroke="#111" stroke-width="1.4"/>
<line x1="398.85" y1="324.02" x2="398.85" y2="313.42" stroke="#111" stroke-width="1.3"/>
<line x1="395.45" y1="313.42" x2="402.25" y2="313.42" stroke="#111" stroke-width="1.4"/>
<rect x="391.00" y="324.02" width="15.70" height="140.08" fill="#a1a1a1" stroke="#111" stroke-width="1.4"/>
<line x1="422.90" y1="409.85" x2="422.90" y2="400.35" stroke="#111" stroke-width="1.3"/>
<line x1="419.50" y1="400.35" x2="426.30" y2="400.35" stroke="#111" stroke-width="1.4"/>
<rect x="415.70" y="409.85" width="14.40" height="54.25" fill="url(#hatch)" stroke="#111" stroke-width="1.4"/>
<line x1="437.35" y1="393.75" x2="437.35" y2="390.85" stroke="#111" stroke-width="1.3"/>
<line x1="433.95" y1="390.85" x2="440.75" y2="390.85" stroke="#111" stroke-width="1.4"/>
<rect x="430.10" y="393.75" width="14.50" height="70.35" fill="#fff" stroke="#111" stroke-width="1.4"/>
<line x1="452.45" y1="397.34" x2="452.45" y2="394.04" stroke="#111" stroke-width="1.3"/>
<line x1="449.05" y1="394.04" x2="455.85" y2="394.04" stroke="#111" stroke-width="1.4"/>
<rect x="444.60" y="397.34" width="15.70" height="66.76" fill="#a1a1a1" stroke="#111" stroke-width="1.4"/>
<line x1="474.00" y1="433.19" x2="474.00" y2="430.79" stroke="#111" stroke-width="1.3"/>
<line x1="470.60" y1="430.79" x2="477.40" y2="430.79" stroke="#111" stroke-width="1.4"/>
<rect x="466.80" y="433.19" width="14.40" height="30.91" fill="url(#hatch)" stroke="#111" stroke-width="1.4"/>
<line x1="488.45" y1="436.29" x2="488.45" y2="427.09" stroke="#111" stroke-width="1.3"/>
<line x1="485.05" y1="427.09" x2="491.85" y2="427.09" stroke="#111" stroke-width="1.4"/>
<rect x="481.20" y="436.29" width="14.50" height="27.81" fill="#fff" stroke="#111" stroke-width="1.4"/>
<line x1="503.55" y1="428.19" x2="503.55" y2="422.79" stroke="#111" stroke-width="1.3"/>
<line x1="500.15" y1="422.79" x2="506.95" y2="422.79" stroke="#111" stroke-width="1.4"/>
<rect x="495.70" y="428.19" width="15.70" height="35.91" fill="#a1a1a1" stroke="#111" stroke-width="1.4"/>
<line x1="358.20" y1="258.90" x2="358.20" y2="464.70" stroke="#111" stroke-width="1.3"/>
<line x1="357.60" y1="464.10" x2="519.20" y2="464.10" stroke="#111" stroke-width="1.3"/>
<line x1="353.20" y1="464.10" x2="358.20" y2="464.10" stroke="#111" stroke-width="1.3"/>
<line x1="353.20" y1="412.95" x2="358.20" y2="412.95" stroke="#111" stroke-width="1.3"/>
<line x1="353.20" y1="361.80" x2="358.20" y2="361.80" stroke="#111" stroke-width="1.3"/>
<line x1="353.20" y1="310.65" x2="358.20" y2="310.65" stroke="#111" stroke-width="1.3"/>
<line x1="353.20" y1="259.50" x2="358.20" y2="259.50" stroke="#111" stroke-width="1.3"/>
<line x1="383.40" y1="464.10" x2="383.40" y2="468.90" stroke="#111" stroke-width="1.3"/>
<line x1="437.00" y1="464.10" x2="437.00" y2="468.90" stroke="#111" stroke-width="1.3"/>
<line x1="488.10" y1="464.10" x2="488.10" y2="468.90" stroke="#111" stroke-width="1.3"/>
</g>
<line x1="437.50" y1="376.60" x2="437.50" y2="383.40" stroke="#111" stroke-width="0.9"/>
<circle cx="437.50" cy="376.60" r="0.85" fill="#111"/>
<circle cx="437.50" cy="383.40" r="0.85" fill="#111"/>
<line x1="434.56" y1="378.30" x2="440.44" y2="381.70" stroke="#111" stroke-width="0.9"/>
<circle cx="434.56" cy="378.30" r="0.85" fill="#111"/>
<circle cx="440.44" cy="381.70" r="0.85" fill="#111"/>
<line x1="440.44" y1="378.30" x2="434.56" y2="381.70" stroke="#111" stroke-width="0.9"/>
<circle cx="440.44" cy="378.30" r="0.85" fill="#111"/>
<circle cx="434.56" cy="381.70" r="0.85" fill="#111"/>
<circle cx="437.50" cy="380.00" r="0.9" fill="#111"/>
<line x1="452.80" y1="379.30" x2="452.80" y2="386.10" stroke="#111" stroke-width="0.9"/>
<circle cx="452.80" cy="379.30" r="0.85" fill="#111"/>
<circle cx="452.80" cy="386.10" r="0.85" fill="#111"/>
<line x1="449.86" y1="381.00" x2="455.74" y2="384.40" stroke="#111" stroke-width="0.9"/>
<circle cx="449.86" cy="381.00" r="0.85" fill="#111"/>
<circle cx="455.74" cy="384.40" r="0.85" fill="#111"/>
<line x1="455.74" y1="381.00" x2="449.86" y2="384.40" stroke="#111" stroke-width="0.9"/>
<circle cx="455.74" cy="381.00" r="0.85" fill="#111"/>
<circle cx="449.86" cy="384.40" r="0.85" fill="#111"/>
<circle cx="452.80" cy="382.70" r="0.9" fill="#111"/>
<line x1="488.70" y1="413.00" x2="488.70" y2="419.80" stroke="#111" stroke-width="0.9"/>
<circle cx="488.70" cy="413.00" r="0.85" fill="#111"/>
<circle cx="488.70" cy="419.80" r="0.85" fill="#111"/>
<line x1="485.76" y1="414.70" x2="491.64" y2="418.10" stroke="#111" stroke-width="0.9"/>
<circle cx="485.76" cy="414.70" r="0.85" fill="#111"/>
<circle cx="491.64" cy="418.10" r="0.85" fill="#111"/>
<line x1="491.64" y1="414.70" x2="485.76" y2="418.10" stroke="#111" stroke-width="0.9"/>
<circle cx="491.64" cy="414.70" r="0.85" fill="#111"/>
<circle cx="485.76" cy="418.10" r="0.85" fill="#111"/>
<circle cx="488.70" cy="416.40" r="0.9" fill="#111"/>
<line x1="503.50" y1="410.70" x2="503.50" y2="417.50" stroke="#111" stroke-width="0.9"/>
<circle cx="503.50" cy="410.70" r="0.85" fill="#111"/>
<circle cx="503.50" cy="417.50" r="0.85" fill="#111"/>
<line x1="500.56" y1="412.40" x2="506.44" y2="415.80" stroke="#111" stroke-width="0.9"/>
<circle cx="500.56" cy="412.40" r="0.85" fill="#111"/>
<circle cx="506.44" cy="415.80" r="0.85" fill="#111"/>
<line x1="506.44" y1="412.40" x2="500.56" y2="415.80" stroke="#111" stroke-width="0.9"/>
<circle cx="506.44" cy="412.40" r="0.85" fill="#111"/>
<circle cx="500.56" cy="415.80" r="0.85" fill="#111"/>
<circle cx="503.50" cy="414.10" r="0.9" fill="#111"/>
<rect x="457.80" y="270.70" width="9.4" height="9.4" fill="#fff" stroke="#111" stroke-width="1.3"/>
<line x1="457.80" y1="270.70" x2="467.20" y2="280.10" stroke="#222" stroke-width="1.3"/>
<line x1="463.40" y1="270.70" x2="467.20" y2="274.50" stroke="#222" stroke-width="1.2"/>
<line x1="457.80" y1="276.30" x2="461.60" y2="280.10" stroke="#222" stroke-width="1.2"/>
<rect x="457.80" y="286.10" width="9.4" height="9.4" fill="#fff" stroke="#111" stroke-width="1.3"/>
<rect x="457.80" y="301.60" width="9.4" height="9.4" fill="#a1a1a1" stroke="#111" stroke-width="1.3"/>
<text transform="translate(307.05,240.25) scale(1.0355,1.0961)" font-size="23" font-weight="bold" style="stroke:none">C</text>
<text transform="translate(330.67,265.78) scale(1.1486,1.0883)" font-size="11" font-weight="normal" stroke-width="0.4">200</text>
<text transform="translate(330.99,316.38) scale(1.1026,1.1012)" font-size="11" font-weight="normal" stroke-width="0.4">150</text>
<text transform="translate(330.70,366.38) scale(1.0909,1.1012)" font-size="11" font-weight="normal" stroke-width="0.4">100</text>
<text transform="translate(336.49,416.48) scale(1.1650,1.0755)" font-size="11" font-weight="normal" stroke-width="0.4">50</text>
<text transform="translate(343.49,466.98) scale(1.1483,1.0883)" font-size="11" font-weight="normal" stroke-width="0.4">0</text>
<text transform="translate(378.39,485.38) scale(1.1483,1.1012)" font-size="11" font-weight="normal" stroke-width="0.4">0</text>
<text transform="translate(433.41,485.48) scale(1.1209,1.0627)" font-size="11" font-weight="normal" stroke-width="0.4">50</text>
<text transform="translate(479.20,485.48) scale(1.0909,1.0627)" font-size="11" font-weight="normal" stroke-width="0.4">100</text>
<text transform="translate(399.64,504.00) scale(1.0027,1.0749)" font-size="12" font-weight="normal" stroke-width="0.4">BAPTA</text>
<text transform="translate(443.39,503.82) scale(0.9829,1.0250)" font-size="12" font-weight="normal" stroke-width="0.4">(μM)</text>
<text transform="translate(319.05,418.48) rotate(-90) scale(1.0179,0.9715)" font-size="12" font-weight="normal" stroke-width="0.4">Fluorescence (AU)</text>
<text transform="translate(473.74,276.70) scale(1.0103,0.8390)" font-size="12" font-weight="normal" stroke-width="0.4">vehicle</text>
<text transform="translate(473.24,294.39) scale(1.0288,0.9038)" font-size="12" font-weight="normal" stroke-width="0.4">ST1926</text>
<text transform="translate(473.20,311.69) scale(1.0022,0.9390)" font-size="12" font-weight="normal" stroke-width="0.4">CD437</text>
</svg>
</body></html>
